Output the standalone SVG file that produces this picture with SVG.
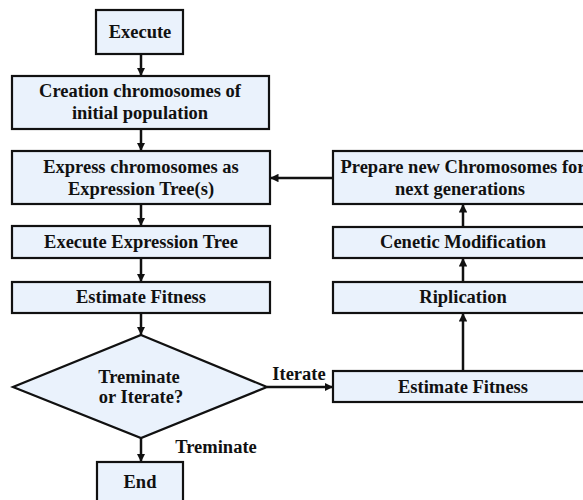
<svg xmlns="http://www.w3.org/2000/svg" width="583" height="500" viewBox="0 0 583 500">
  <style>
    .box { fill: #eaf2fc; stroke: #111; stroke-width: 2.2; }
    .lbl { font-family: "Liberation Serif", "Times New Roman", serif; font-weight: bold; font-size: 18.5px; fill: #111; text-anchor: middle; }
    .edge { stroke: #111; stroke-width: 2.5; fill: none; marker-end: url(#arrow); }
  </style>
  <defs>
    <marker id="arrow" viewBox="0 0 10 10" refX="10" refY="5" markerWidth="3.4" markerHeight="3.4" orient="auto" markerUnits="strokeWidth">
      <path d="M0,0 L10,5 L0,10 Z" fill="#111"/>
    </marker>
  </defs>
  <rect width="583" height="500" fill="#fff"/>

  <g id="connectors">
    <line class="edge" x1="141" y1="54" x2="141" y2="76"/>
    <line class="edge" x1="141" y1="129" x2="141" y2="151"/>
    <line class="edge" x1="141" y1="204" x2="141" y2="226"/>
    <line class="edge" x1="141" y1="258" x2="141" y2="282"/>
    <line class="edge" x1="141" y1="313" x2="141" y2="335"/>
    <line class="edge" x1="141" y1="438" x2="141" y2="462"/>
    <line class="edge" x1="267" y1="387" x2="333" y2="387"/>
    <line class="edge" x1="463" y1="371" x2="463" y2="313"/>
    <line class="edge" x1="463" y1="282" x2="463" y2="258"/>
    <line class="edge" x1="463" y1="227" x2="463" y2="204"/>
    <line class="edge" x1="333" y1="178" x2="270" y2="178"/>
    <text class="lbl" x="299" y="380">Iterate</text>
    <text class="lbl" x="216" y="453">Treminate</text>
  </g>

  <g id="start">
    <rect class="box" x="96" y="10" width="87" height="44"/>
    <text class="lbl" x="140" y="38">Execute</text>
  </g>
  <g id="create">
    <rect class="box" x="12" y="76" width="257" height="53"/>
    <text class="lbl" x="140" y="97">Creation chromosomes of</text>
    <text class="lbl" x="140" y="119">initial population</text>
  </g>
  <g id="express">
    <rect class="box" x="12" y="151" width="258" height="53"/>
    <text class="lbl" x="141" y="173">Express chromosomes as</text>
    <text class="lbl" x="141" y="195">Expression Tree(s)</text>
  </g>
  <g id="exec-tree">
    <rect class="box" x="12" y="226" width="258" height="32"/>
    <text class="lbl" x="141" y="248">Execute Expression Tree</text>
  </g>
  <g id="fitness-left">
    <rect class="box" x="12" y="282" width="258" height="31"/>
    <text class="lbl" x="141" y="303">Estimate Fitness</text>
  </g>
  <g id="decision">
    <polygon class="box" points="141,335 267,387 141,438 13,387"/>
    <text class="lbl" x="139" y="383">Treminate</text>
    <text class="lbl" x="141" y="403">or Iterate?</text>
  </g>
  <g id="end">
    <rect class="box" x="97" y="462" width="86" height="50"/>
    <text class="lbl" x="140" y="488">End</text>
  </g>
  <g id="fitness-right">
    <rect class="box" x="333" y="371" width="260" height="31"/>
    <text class="lbl" x="463" y="393">Estimate Fitness</text>
  </g>
  <g id="replication">
    <rect class="box" x="333" y="282" width="260" height="31"/>
    <text class="lbl" x="463" y="303">Riplication</text>
  </g>
  <g id="modification">
    <rect class="box" x="333" y="227" width="260" height="31"/>
    <text class="lbl" x="463" y="248">Cenetic Modification</text>
  </g>
  <g id="prepare">
    <rect class="box" x="333" y="151" width="260" height="53"/>
    <text class="lbl" x="463" y="173">Prepare new Chromosomes for</text>
    <text class="lbl" x="460" y="195">next generations</text>
  </g>
</svg>
